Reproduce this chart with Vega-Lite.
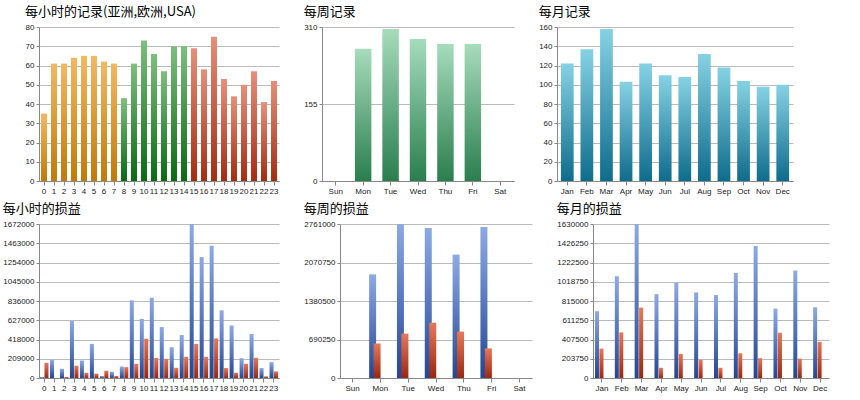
{
"$schema":"https://vega.github.io/schema/vega-lite/v6.json",
"background":"white",
"padding":{"left":2,"top":6,"right":4,"bottom":2},
"config":{"font":"Liberation Sans","view":{"stroke":null},
"title":{"anchor":"start","fontSize":13,"fontWeight":"normal","color":"#000","offset":4,"font":"Noto Sans CJK SC"},
"axis":{"labelFontSize":8,"labelColor":"#222","title":null,"domainColor":"#888","tickColor":"#888","gridColor":"#bbb"},
"axisX":{"labelAngle":0,"grid":false,"tickSize":4,"labelPadding":2},
"axisY":{"tickSize":3,"labelPadding":2,"domain":true},
"bar":{"stroke":null}},
"datasets":{
"hr":[{"h":0,"v":35,"g":"a"},{"h":1,"v":61,"g":"a"},{"h":2,"v":61,"g":"a"},{"h":3,"v":64,"g":"a"},{"h":4,"v":65,"g":"a"},{"h":5,"v":65,"g":"a"},{"h":6,"v":62,"g":"a"},{"h":7,"v":61,"g":"a"},{"h":8,"v":43,"g":"e"},{"h":9,"v":61,"g":"e"},{"h":10,"v":73,"g":"e"},{"h":11,"v":66,"g":"e"},{"h":12,"v":57,"g":"e"},{"h":13,"v":70,"g":"e"},{"h":14,"v":70,"g":"e"},{"h":15,"v":69,"g":"u"},{"h":16,"v":58,"g":"u"},{"h":17,"v":75,"g":"u"},{"h":18,"v":53,"g":"u"},{"h":19,"v":44,"g":"u"},{"h":20,"v":50,"g":"u"},{"h":21,"v":57,"g":"u"},{"h":22,"v":41,"g":"u"},{"h":23,"v":52,"g":"u"}],
"wk":[{"d":"Mon","v":266},{"d":"Tue","v":306},{"d":"Wed","v":286},{"d":"Thu","v":276},{"d":"Fri","v":276}],
"mo":[{"m":"Jan","v":122},{"m":"Feb","v":137},{"m":"Mar","v":158},{"m":"Apr","v":103},{"m":"May","v":122},{"m":"Jun","v":110},{"m":"Jul","v":108},{"m":"Aug","v":132},{"m":"Sep","v":118},{"m":"Oct","v":104},{"m":"Nov","v":98},{"m":"Dec","v":100}],
"hp":[{"h":0,"s":"a","v":10000},{"h":1,"s":"a","v":197000},{"h":2,"s":"a","v":100000},{"h":3,"s":"a","v":620000},{"h":4,"s":"a","v":190000},{"h":5,"s":"a","v":370000},{"h":6,"s":"a","v":22000},{"h":7,"s":"a","v":68000},{"h":8,"s":"a","v":125000},{"h":9,"s":"a","v":843000},{"h":10,"s":"a","v":642000},{"h":11,"s":"a","v":872000},{"h":12,"s":"a","v":553000},{"h":13,"s":"a","v":334000},{"h":14,"s":"a","v":466000},{"h":15,"s":"a","v":1672000},{"h":16,"s":"a","v":1313000},{"h":17,"s":"a","v":1435000},{"h":18,"s":"a","v":735000},{"h":19,"s":"a","v":570000},{"h":20,"s":"a","v":215000},{"h":21,"s":"a","v":477000},{"h":22,"s":"a","v":108000},{"h":23,"s":"a","v":172000},
{"h":0,"s":"b","v":165000},{"h":1,"s":"b","v":2000},{"h":2,"s":"b","v":10000},{"h":3,"s":"b","v":133000},{"h":4,"s":"b","v":57000},{"h":5,"s":"b","v":47000},{"h":6,"s":"b","v":79000},{"h":7,"s":"b","v":22000},{"h":8,"s":"b","v":118000},{"h":9,"s":"b","v":154000},{"h":10,"s":"b","v":427000},{"h":11,"s":"b","v":219000},{"h":12,"s":"b","v":208000},{"h":13,"s":"b","v":111000},{"h":14,"s":"b","v":230000},{"h":15,"s":"b","v":370000},{"h":16,"s":"b","v":230000},{"h":17,"s":"b","v":430000},{"h":18,"s":"b","v":108000},{"h":19,"s":"b","v":57000},{"h":20,"s":"b","v":154000},{"h":21,"s":"b","v":219000},{"h":22,"s":"b","v":18000},{"h":23,"s":"b","v":72000}],
"wp":[{"d":"Mon","s":"a","v":1858000},{"d":"Tue","s":"a","v":2761000},{"d":"Wed","s":"a","v":2690000},{"d":"Thu","s":"a","v":2212000},{"d":"Fri","s":"a","v":2708000},
{"d":"Mon","s":"b","v":619000},{"d":"Tue","s":"b","v":796000},{"d":"Wed","s":"b","v":991000},{"d":"Thu","s":"b","v":832000},{"d":"Fri","s":"b","v":531000}],
"mp":[{"m":"Jan","s":"a","v":707000},{"m":"Feb","s":"a","v":1077000},{"m":"Mar","s":"a","v":1630000},{"m":"Apr","s":"a","v":888000},{"m":"May","s":"a","v":1011000},{"m":"Jun","s":"a","v":906000},{"m":"Jul","s":"a","v":878000},{"m":"Aug","s":"a","v":1112000},{"m":"Sep","s":"a","v":1396000},{"m":"Oct","s":"a","v":735000},{"m":"Nov","s":"a","v":1137000},{"m":"Dec","s":"a","v":749000},
{"m":"Jan","s":"b","v":311000},{"m":"Feb","s":"b","v":483000},{"m":"Mar","s":"b","v":745000},{"m":"Apr","s":"b","v":108000},{"m":"May","s":"b","v":255000},{"m":"Jun","s":"b","v":192000},{"m":"Jul","s":"b","v":108000},{"m":"Aug","s":"b","v":262000},{"m":"Sep","s":"b","v":210000},{"m":"Oct","s":"b","v":479000},{"m":"Nov","s":"b","v":206000},{"m":"Dec","s":"b","v":381000}]
},
"vconcat":[
{"hconcat":[
{"title":"每小时的记录(亚洲,欧洲,USA)","width":240,"height":154,"data":{"name":"hr"},
"encoding":{"x":{"field":"h","type":"ordinal","scale":{"paddingInner":0.4,"paddingOuter":0.2}},
"y":{"field":"v","type":"quantitative","scale":{"domain":[0,80]},"axis":{"values":[0,10,20,30,40,50,60,70,80]}}},
"layer":[
{"transform":[{"filter":"datum.g=='a'"}],"mark":{"type":"bar","color":{"gradient":"linear","x1":0,"y1":0,"x2":0,"y2":1,"stops":[{"offset":0,"color":"#f3b860"},{"offset":1,"color":"#c07a08"}]}}},
{"transform":[{"filter":"datum.g=='e'"}],"mark":{"type":"bar","color":{"gradient":"linear","x1":0,"y1":0,"x2":0,"y2":1,"stops":[{"offset":0,"color":"#7cc07c"},{"offset":1,"color":"#0a6a12"}]}}},
{"transform":[{"filter":"datum.g=='u'"}],"mark":{"type":"bar","color":{"gradient":"linear","x1":0,"y1":0,"x2":0,"y2":1,"stops":[{"offset":0,"color":"#e6907a"},{"offset":1,"color":"#a42c12"}]}}}
]},
{"title":"每周记录","width":192,"height":154,"data":{"name":"wk"},
"mark":{"type":"bar","color":{"gradient":"linear","x1":0,"y1":0,"x2":0,"y2":1,"stops":[{"offset":0,"color":"#a6dcbc"},{"offset":1,"color":"#2a7e4e"}]}},
"encoding":{"x":{"field":"d","type":"ordinal","scale":{"domain":["Sun","Mon","Tue","Wed","Thu","Fri","Sat"],"paddingInner":0.4,"paddingOuter":0.2}},
"y":{"field":"v","type":"quantitative","scale":{"domain":[0,310]},"axis":{"values":[0,155,310]}}}},
{"title":"每月记录","width":236,"height":154,"data":{"name":"mo"},
"mark":{"type":"bar","color":{"gradient":"linear","x1":0,"y1":0,"x2":0,"y2":1,"stops":[{"offset":0,"color":"#86d2e4"},{"offset":1,"color":"#0e6c8c"}]}},
"encoding":{"x":{"field":"m","type":"ordinal","sort":null,"scale":{"paddingInner":0.35,"paddingOuter":0.2}},
"y":{"field":"v","type":"quantitative","scale":{"domain":[0,160]},"axis":{"values":[0,20,40,60,80,100,120,140,160]}}}}
],"spacing":24},
{"hconcat":[
{"title":"每小时的损益","width":240,"height":154,"data":{"name":"hp"},
"encoding":{"x":{"field":"h","type":"ordinal","scale":{"paddingInner":0.15,"paddingOuter":0.1}},"xOffset":{"field":"s","scale":{"domain":["a","b"],"paddingInner":0.1}},
"y":{"field":"v","type":"quantitative","scale":{"domain":[0,1672000]},"axis":{"values":[0,209000,418000,627000,836000,1045000,1254000,1463000,1672000],"format":"d"}}},
"layer":[
{"transform":[{"filter":"datum.s=='a'"}],"mark":{"type":"bar","color":{"gradient":"linear","x1":0,"y1":0,"x2":0,"y2":1,"stops":[{"offset":0,"color":"#8eaae4"},{"offset":1,"color":"#244694"}]}}},
{"transform":[{"filter":"datum.s=='b'"}],"mark":{"type":"bar","color":{"gradient":"linear","x1":0,"y1":0,"x2":0,"y2":1,"stops":[{"offset":0,"color":"#e8785a"},{"offset":1,"color":"#9a2810"}]}}}
]},
{"title":"每周的损益","width":192,"height":154,"data":{"name":"wp"},
"encoding":{"x":{"field":"d","type":"ordinal","scale":{"domain":["Sun","Mon","Tue","Wed","Thu","Fri","Sat"],"paddingInner":0.3,"paddingOuter":0.1}},"xOffset":{"field":"s","scale":{"domain":["a","b"],"paddingInner":1.2}},
"y":{"field":"v","type":"quantitative","scale":{"domain":[0,2761000]},"axis":{"values":[0,690250,1380500,2070750,2761000],"format":"d"}}},
"layer":[
{"transform":[{"filter":"datum.s=='a'"}],"mark":{"type":"bar","width":7,"color":{"gradient":"linear","x1":0,"y1":0,"x2":0,"y2":1,"stops":[{"offset":0,"color":"#8eaae4"},{"offset":1,"color":"#244694"}]}}},
{"transform":[{"filter":"datum.s=='b'"}],"mark":{"type":"bar","width":7,"color":{"gradient":"linear","x1":0,"y1":0,"x2":0,"y2":1,"stops":[{"offset":0,"color":"#e8785a"},{"offset":1,"color":"#9a2810"}]}}}
]},
{"title":"每月的损益","width":236,"height":154,"data":{"name":"mp"},
"encoding":{"x":{"field":"m","type":"ordinal","scale":{"domain":["Jan","Feb","Mar","Apr","May","Jun","Jul","Aug","Sep","Oct","Nov","Dec"],"paddingInner":0.3,"paddingOuter":0.1}},"xOffset":{"field":"s","scale":{"domain":["a","b"],"paddingInner":1.2}},
"y":{"field":"v","type":"quantitative","scale":{"domain":[0,1630000]},"axis":{"values":[0,203750,407500,611250,815000,1018750,1222500,1426250,1630000],"format":"d"}}},
"layer":[
{"transform":[{"filter":"datum.s=='a'"}],"mark":{"type":"bar","width":4,"color":{"gradient":"linear","x1":0,"y1":0,"x2":0,"y2":1,"stops":[{"offset":0,"color":"#8eaae4"},{"offset":1,"color":"#244694"}]}}},
{"transform":[{"filter":"datum.s=='b'"}],"mark":{"type":"bar","width":4,"color":{"gradient":"linear","x1":0,"y1":0,"x2":0,"y2":1,"stops":[{"offset":0,"color":"#e8785a"},{"offset":1,"color":"#9a2810"}]}}}
]}
],"spacing":24}
],"spacing":8}
